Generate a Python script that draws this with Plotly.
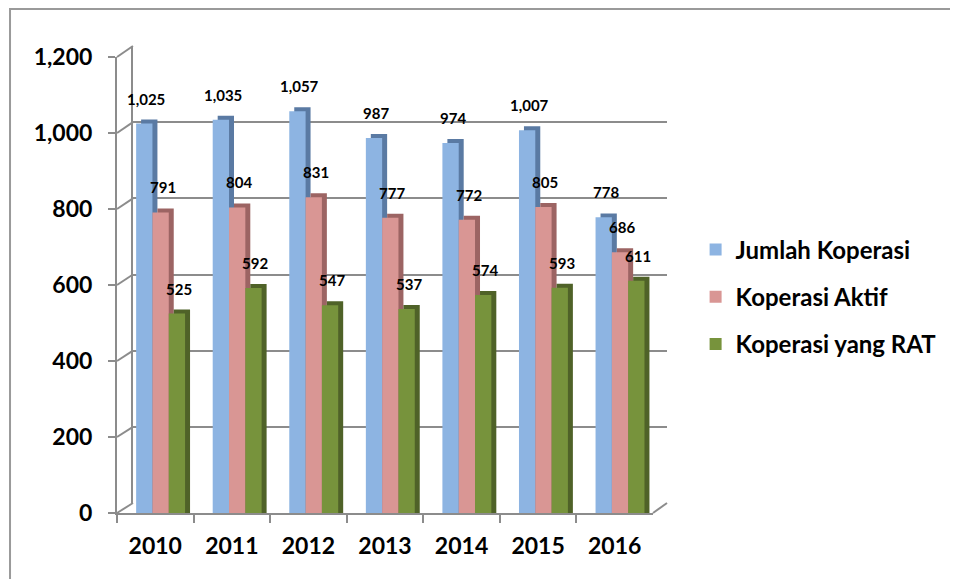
import plotly.graph_objects as go

years = ["2010", "2011", "2012", "2013", "2014", "2015", "2016"]
jumlah = [1025, 1035, 1057, 987, 974, 1007, 778]
aktif = [791, 804, 831, 777, 772, 805, 686]
rat = [525, 592, 547, 537, 574, 593, 611]
series_names = ["Jumlah Koperasi", "Koperasi Aktif", "Koperasi yang RAT"]
yticks = [0, 200, 400, 600, 800, 1000, 1200]

face_colors = ["#8DB4E2", "#D99694", "#77933C"]
side_colors = ["#5A7AA3", "#9C6463", "#4F6228"]
bar_offsets = [-0.25, -0.037, 0.176]
bar_width = 0.213

FONT = "Lato"
grid_col = "#8C8C8C"

# geometry (layout only)
front_x_dom = [0, 0.9745]
front_y_dom = [0, 0.9764]
back_x_dom = [0.029, 1]
back_y_dom = [0.0214, 1]
cat_px = 76.6
depth_units = 10.5
depth_off = 0.065

fig = go.Figure()

# dummy trace for back wall axes
fig.add_trace(go.Scatter(x=[None], y=[None], xaxis="x", yaxis="y",
                         showlegend=False, hoverinfo="skip"))

all_vals = [jumlah, aktif, rat]
for i, vals in enumerate(all_vals):
    fig.add_trace(go.Bar(
        x=years, y=[v + depth_units for v in vals], xaxis="x2", yaxis="y2",
        offset=bar_offsets[i] + depth_off, width=bar_width,
        marker=dict(color=side_colors[i], line=dict(width=0)),
        showlegend=False, hoverinfo="skip"))
    fig.add_trace(go.Bar(
        x=years, y=vals, xaxis="x2", yaxis="y2", name=series_names[i],
        offset=bar_offsets[i], width=bar_width, legendgroup=f"g{i}",
        marker=dict(color=face_colors[i], line=dict(width=0))))

annotations = []
for i, vals in enumerate(all_vals):
    center = (bar_offsets[i] + bar_width / 2) * cat_px + 2
    for idx, v in enumerate(vals):
        annotations.append(dict(
            x=idx, y=v, xref="x2", yref="y2", text=f"{v:,}", showarrow=False,
            xshift=center, yshift=25, yanchor="middle",
            font=dict(family=FONT, size=15, color="black", weight="bold")))

shapes = []
for v in yticks:
    yf = front_y_dom[0] + v / 1200 * (front_y_dom[1] - front_y_dom[0])
    yb = back_y_dom[0] + v / 1200 * (back_y_dom[1] - back_y_dom[0])
    shapes.append(dict(type="line", xref="paper", yref="paper",
                       x0=front_x_dom[0], x1=back_x_dom[0], y0=yf, y1=yb,
                       line=dict(color=grid_col, width=2), layer="below"))
shapes.append(dict(type="line", xref="paper", yref="paper",
                   x0=front_x_dom[1], x1=back_x_dom[1], y0=front_y_dom[0], y1=back_y_dom[0],
                   line=dict(color=grid_col, width=2), layer="below"))
# outer chart border
shapes.append(dict(type="rect", xref="paper", yref="paper",
                   x0=-0.1945, x1=1.7, y0=-0.3, y1=1.0792,
                   line=dict(color="#9A9A9A", width=2), fillcolor="rgba(0,0,0,0)",
                   layer="below"))

tickfont = dict(family=FONT, size=23, color="black", weight="bold")
legfont = dict(family=FONT, size=24, color="black", weight="bold")

fig.update_layout(
    width=950, height=571,
    margin=dict(l=109, r=291, t=38, b=66),
    paper_bgcolor="white", plot_bgcolor="rgba(0,0,0,0)",
    barmode="overlay",
    xaxis=dict(domain=back_x_dom, anchor="y", range=[0, 1], visible=False),
    yaxis=dict(domain=back_y_dom, anchor="x", range=[0, 1200], tickvals=yticks,
               showticklabels=False, showgrid=True, gridcolor=grid_col, gridwidth=2,
               zeroline=False, showline=True, linecolor=grid_col, linewidth=2, ticks=""),
    xaxis2=dict(domain=front_x_dom, anchor="y2", type="category", range=[-0.5, 6.5],
                showline=True, linecolor=grid_col, linewidth=2, ticks="outside",
                tickson="boundaries", ticklen=8, tickcolor=grid_col, tickwidth=2,
                showgrid=False, zeroline=False, tickfont=tickfont, ticklabelstandoff=11),
    yaxis2=dict(domain=front_y_dom, anchor="x2", range=[0, 1200], tickvals=yticks,
                tickformat=",", showline=True, linecolor=grid_col, linewidth=2,
                ticks="outside", ticklen=7, tickcolor=grid_col, tickwidth=2,
                showgrid=False, zeroline=False, tickfont=tickfont, ticklabelstandoff=11),
    legend=dict(x=1.052, xanchor="left", y=0.4625, yanchor="middle",
                font=legfont, tracegroupgap=13, bgcolor="rgba(0,0,0,0)"),
    annotations=annotations,
    shapes=shapes,
    showlegend=True,
)

fig.write_html("out.html")
